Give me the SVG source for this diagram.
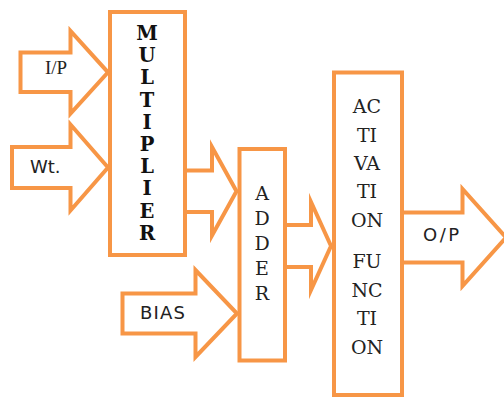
<svg xmlns="http://www.w3.org/2000/svg" width="504" height="398" viewBox="0 0 504 398">
  <style>
    .box { fill: #ffffff; stroke: #F79646; stroke-width: 4; }
    .arrow { fill: #ffffff; stroke: #F79646; stroke-width: 4; stroke-linejoin: miter; stroke-miterlimit: 10; }
    .mult { font-family: "DejaVu Serif", "Liberation Serif", serif; font-weight: bold; font-size: 19.5px; fill: #111111; text-anchor: middle; }
    .slab { font-family: "DejaVu Serif", "Liberation Serif", serif; font-size: 19px; fill: #222222; text-anchor: middle; }
    .sans { font-family: "DejaVu Sans", "Liberation Sans", sans-serif; font-size: 18px; fill: #222222; }
    .serif { font-family: "Liberation Serif", "Times New Roman", serif; font-size: 19px; fill: #222222; }
  </style>

  <!-- block arrows carrying the signals between stages -->
  <g id="connectors">
    <g id="arrow-ip">
      <polygon class="arrow" points="20.5,52.5 70.5,52.5 70.5,31 108,72.3 70.5,113.5 70.5,92 20.5,92"/>
      <text class="serif" x="45" y="74">I/P</text>
    </g>
    <g id="arrow-wt">
      <polygon class="arrow" points="12,147 70.5,147 70.5,124.5 108,167.5 70.5,210.5 70.5,188 12,188"/>
      <text class="sans" x="30" y="173">Wt.</text>
    </g>
    <g id="arrow-bias">
      <polygon class="arrow" points="122.5,293.5 195.5,293.5 195.5,270 237,313.5 195.5,357 195.5,333.5 122.5,333.5"/>
      <text class="sans" x="140" y="319" letter-spacing="1.2">BIAS</text>
    </g>
    <g id="arrow-mult-adder">
      <polyline class="arrow" points="185,170.5 212,170.5 212,147 236.5,191.3 212,235.5 212,212 185,212"/>
    </g>
    <g id="arrow-adder-act">
      <polyline class="arrow" points="285,225 311,225 311,202 331,246 311,290 311,267 285,267"/>
    </g>
    <g id="arrow-op">
      <polyline class="arrow" points="402,212.5 462.5,212.5 462.5,189 506,237.5 462.5,286 462.5,262.5 402,262.5"/>
      <text class="sans" x="423" y="241" letter-spacing="2.5">O/P</text>
    </g>
  </g>

  <!-- multiplier stage -->
  <g id="multiplier">
    <rect class="box" x="110" y="12" width="75" height="243"/>
    <text class="mult" x="147" y="40">M</text>
    <text class="mult" x="147" y="62.2">U</text>
    <text class="mult" x="147" y="84.4">L</text>
    <text class="mult" x="147" y="106.6">T</text>
    <text class="mult" x="147" y="128.8">I</text>
    <text class="mult" x="147" y="151">P</text>
    <text class="mult" x="147" y="173.2">L</text>
    <text class="mult" x="147" y="195.4">I</text>
    <text class="mult" x="147" y="217.6">E</text>
    <text class="mult" x="147" y="239.8">R</text>
  </g>

  <!-- adder stage -->
  <g id="adder">
    <rect class="box" x="239.5" y="149" width="45.5" height="211.5"/>
    <text class="slab" x="262" y="200">A</text>
    <text class="slab" x="262" y="225">D</text>
    <text class="slab" x="262" y="250">D</text>
    <text class="slab" x="262" y="275">E</text>
    <text class="slab" x="262" y="300">R</text>
  </g>

  <!-- activation function stage -->
  <g id="activation">
    <rect class="box" x="334" y="72.5" width="68" height="322.5"/>
    <text class="slab" x="367" y="113">AC</text>
    <text class="slab" x="367" y="142">TI</text>
    <text class="slab" x="367" y="170">VA</text>
    <text class="slab" x="367" y="198">TI</text>
    <text class="slab" x="367" y="227">ON</text>
    <text class="slab" x="367" y="268">FU</text>
    <text class="slab" x="367" y="297">NC</text>
    <text class="slab" x="367" y="325">TI</text>
    <text class="slab" x="367" y="354">ON</text>
  </g>
</svg>
